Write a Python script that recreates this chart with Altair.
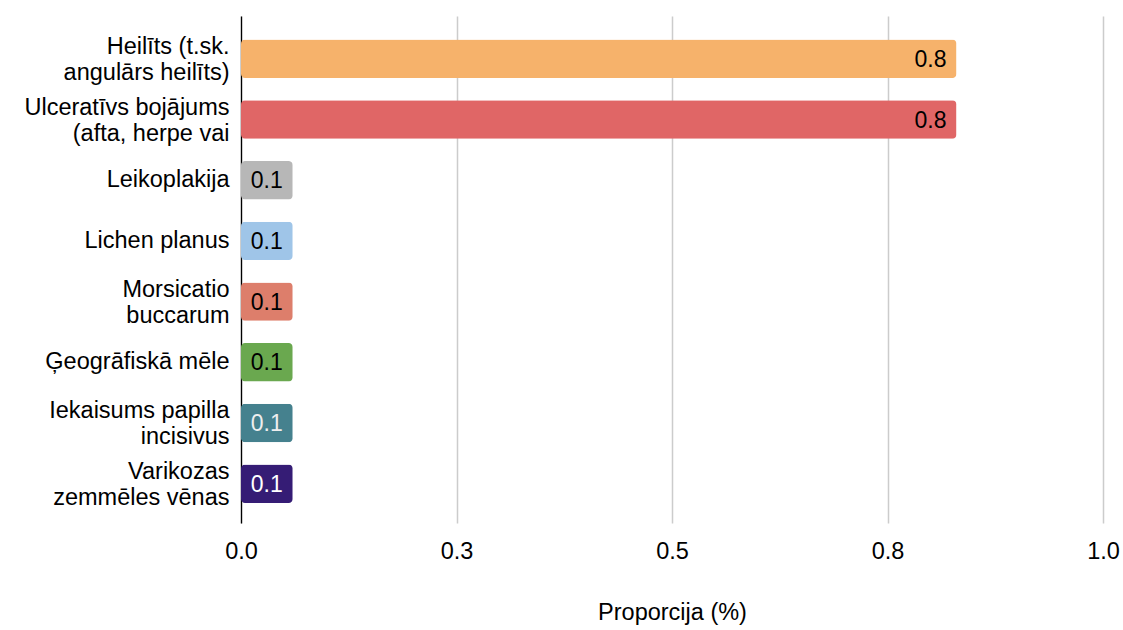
import altair as alt
import pandas as pd

categories = [
    "Heilīts (t.sk.|angulārs heilīts)",
    "Ulceratīvs bojājums|(afta, herpe vai",
    "Leikoplakija",
    "Lichen planus",
    "Morsicatio|buccarum",
    "Ģeogrāfiskā mēle",
    "Iekaisums papilla|incisivus",
    "Varikozas|zemmēles vēnas",
]
values = [0.83, 0.83, 0.06, 0.06, 0.06, 0.06, 0.06, 0.06]
colors = ["#F6B26B", "#E06666", "#B7B7B7", "#9FC5E8", "#DD7E6B", "#6AA84F", "#45818E", "#351C75"]
text_colors = ["#000000", "#000000", "#000000", "#000000", "#000000", "#000000", "#EEEEEE", "#FFFFFF"]

df = pd.DataFrame({"cat": categories, "val": values, "col": colors, "tcol": text_colors})

FONT = "Liberation Sans"
FS = 23.5

y_enc = alt.Y(
    "cat:N",
    sort=categories,
    title=None,
    scale=alt.Scale(paddingInner=0.367, paddingOuter=0.36, align=0.54),
    axis=alt.Axis(
        labelExpr="split(datum.label, '|')",
        labelFontSize=FS,
        labelFont=FONT,
        labelColor="#000000",
        labelPadding=12,
        labelLineHeight=26,
        labelOffset={"condition": {"test": "indexof(datum.value, '|') >= 0", "value": -12}, "value": 0},
        ticks=False,
        domain=True,
        domainColor="#000000",
        domainWidth=1.3,
        labelLimit=300,
    ),
)

x_enc = alt.X(
    "val:Q",
    title="Proporcija (%)",
    scale=alt.Scale(domain=[0, 1], nice=False),
    axis=alt.Axis(
        values=[0, 0.25, 0.5, 0.75, 1.0],
        format=".1f",
        labelFontSize=FS,
        labelFont=FONT,
        labelColor="#000000",
        labelPadding=16,
        labelFlush=False,
        ticks=False,
        domain=False,
        grid=True,
        gridColor="#CCCCCC",
        gridWidth=1.5,
        titleFontSize=FS,
        titleFont=FONT,
        titleFontWeight="normal",
        titleColor="#000000",
        titlePadding=38,
    ),
)

bars = alt.Chart(df).mark_bar(cornerRadius=4).encode(
    x=x_enc,
    y=y_enc,
    color=alt.Color("col:N", scale=None, legend=None),
)

labels = alt.Chart(df).mark_text(
    align="right", baseline="middle", dx=-10, dy=1, fontSize=23, font=FONT
).encode(
    x="val:Q",
    y=alt.Y("cat:N", sort=categories),
    text=alt.Text("val:Q", format=".1f"),
    color=alt.Color("tcol:N", scale=None, legend=None),
)

chart = (
    alt.layer(bars, labels)
    .properties(
        width=862,
        height=507,
        autosize=alt.AutoSizeParams(type="none"),
        padding={"left": 241, "top": 16, "right": 20, "bottom": 107},
        background="#FFFFFF",
    )
    .configure_view(stroke=None)
)

chart.save("out.html", embed_options={"renderer": "svg", "actions": False})
